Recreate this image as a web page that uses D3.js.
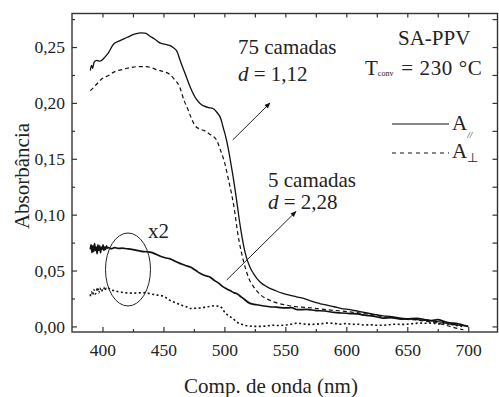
<!DOCTYPE html>
<html><head><meta charset="utf-8">
<script src="https://cdn.jsdelivr.net/npm/d3@7"></script>
<style>
html,body{margin:0;padding:0;background:#fff;}
svg{display:block;}
</style></head>
<body>
<svg id="chart" width="499" height="397"></svg>
<script>
// ---- data (wavelength nm, absorbance) ----
const xTicks = [400, 450, 500, 550, 600, 650, 700];
const yTicks = [0, 0.05, 0.10, 0.15, 0.20, 0.25];
const yTickLabels = ["0,00", "0,05", "0,10", "0,15", "0,20", "0,25"];

const wl75par = [390,391,392,393,395,398,402,405,409,414,420,425,431,435,439,443,447,451,455,458,461,464,468,472,477,480,483,487,490,494,497,499,501,503,505,507,510,512,514,516,518,521,524,529,535,542,548,554,559,565,570,576,580,585,590,596,603,610,617,623,630,637,645,651,658,664,670,678,685,692,700];
const a75par  = [0.229,0.2335,0.231,0.236,0.238,0.2374,0.241,0.245,0.2525,0.2555,0.2585,0.261,0.2627,0.2625,0.2597,0.257,0.2537,0.2525,0.2514,0.2495,0.2463,0.237,0.2256,0.214,0.2033,0.1995,0.1973,0.1958,0.1953,0.1914,0.186,0.178,0.170,0.160,0.148,0.135,0.113,0.097,0.083,0.071,0.062,0.053,0.047,0.040,0.0354,0.032,0.0295,0.0278,0.0265,0.025,0.023,0.021,0.020,0.0188,0.0176,0.016,0.015,0.0135,0.012,0.0108,0.0095,0.0088,0.0075,0.0068,0.006,0.0055,0.005,0.0038,0.002,0.0012,0.000];

const wl75perp = [390,392,395,400,405,410,415,420,425,430,436,440,445,450,455,459,463,467,470,473,476,480,484,488,492,494,496,498,500.5,502,504,506,508,511,514,517,520,524,530,537,543,549,559,567,576,585,594,603,612,621,630,640,650,658,666,675,685,690,696];
const a75perp  = [0.211,0.213,0.2165,0.222,0.2245,0.228,0.2295,0.231,0.232,0.2325,0.2324,0.2315,0.2295,0.228,0.2256,0.221,0.2151,0.202,0.1944,0.186,0.1795,0.1765,0.175,0.172,0.169,0.166,0.160,0.154,0.1454,0.138,0.128,0.118,0.106,0.083,0.066,0.053,0.043,0.0354,0.028,0.0235,0.021,0.0195,0.0176,0.017,0.016,0.0148,0.014,0.013,0.0118,0.0105,0.0087,0.0075,0.0062,0.0057,0.0045,0.003,0.000,-0.0015,-0.003];

const wl5par = [390,390.7,391.4,392.1,392.8,393.5,394.2,394.9,395.6,396.3,397,397.7,398.4,399.1,399.8,400.5,401.2,401.9,402.6,403.3,404,405,407,410,413,416,420,424,428,432,436,440,444,448,452,455,460,465,468,472,476,480,484,488,492,495,499,502,505,508,510,513,516,521,526,531,537,543,550,555,560,567,575,582,590,596,603,609,615,622,630,637,645,651,658,664,670,675,680,685,690,695,700];
const a5par  = [0.069,0.073,0.066,0.072,0.067,0.074,0.068,0.071,0.065,0.073,0.068,0.072,0.066,0.071,0.069,0.073,0.068,0.071,0.069,0.072,0.070,0.0705,0.0695,0.0705,0.0698,0.070,0.0695,0.069,0.068,0.0672,0.0668,0.0662,0.0645,0.0625,0.0612,0.0607,0.058,0.0558,0.0545,0.0532,0.0505,0.0475,0.0455,0.0443,0.041,0.039,0.0354,0.0335,0.0318,0.030,0.0295,0.027,0.0245,0.0206,0.0195,0.0185,0.0176,0.0172,0.0165,0.0168,0.015,0.0152,0.0142,0.0138,0.0125,0.012,0.0115,0.0112,0.0100,0.0092,0.0075,0.0078,0.0065,0.0068,0.0072,0.0062,0.0052,0.0060,0.0045,0.0032,0.0028,0.0015,0.000];

const wl5perp = [390,391,392,393,394,395,396,397,398,399,400,401,402,403,404,405,407,410,413,416,420,425,430,435,440,445,450,455,460,465,469,472,476,480,483,486,489,492,494,496,498,500,502,505,508,510,513,516,520,525,530,535,540,545,550,555,560,565,570,575,580,585,590,595,600,605,610,615,620,625,630,635,640,645,650,655,660,665,670,675,680,685,690,695];
const a5perp  = [0.027,0.031,0.028,0.033,0.029,0.031,0.035,0.030,0.034,0.031,0.033,0.035,0.032,0.034,0.033,0.034,0.0325,0.032,0.031,0.0305,0.030,0.0298,0.030,0.0302,0.029,0.028,0.027,0.0235,0.021,0.019,0.0175,0.016,0.0162,0.0165,0.017,0.0176,0.018,0.0185,0.0182,0.018,0.0165,0.013,0.0108,0.0086,0.006,0.004,0.0025,0.0012,0.0005,0.000,0.000,0.0005,0.001,0.0008,0.0012,0.002,0.003,0.0022,0.0018,0.002,0.0025,0.003,0.0028,0.002,0.0025,0.0018,0.002,0.0012,0.0015,0.001,0.001,0.0015,0.002,0.0018,0.002,0.0025,0.003,0.0028,0.003,0.0022,0.0025,0.002,0.001,0.000];

// ---- layout ----
const FONT = "'Liberation Serif', 'Times New Roman', serif";
const svg = d3.select("#chart").attr("font-family", FONT);
const m = {left: 72, right: 497.5, top: 13.5, bottom: 332};
const x = d3.scaleLinear().domain([375, 724]).range([m.left, m.right]);
const y = d3.scaleLinear().domain([-0.005, 0.28]).range([m.bottom, m.top]);
const ink = "#222";

// frame
svg.append("rect").attr("x", m.left).attr("y", m.top)
  .attr("width", m.right - m.left).attr("height", m.bottom - m.top)
  .attr("fill", "none").attr("stroke", "#333").attr("stroke-width", 1.4);

// axes with inward ticks
const xMinor = d3.range(400, 725, 25);
const yMinor = d3.range(0, 0.276, 0.025);
const bottomAx = svg.append("g").attr("transform", `translate(0,${m.bottom})`)
  .call(d3.axisBottom(x).tickValues(xTicks).tickSize(-5).tickPadding(12).tickFormat(d3.format("d")));
const bottomMinor = svg.append("g").attr("transform", `translate(0,${m.bottom})`)
  .call(d3.axisBottom(x).tickValues(xMinor.filter(v => !xTicks.includes(v))).tickSize(-3).tickFormat(""));
const topAx = svg.append("g").attr("transform", `translate(0,${m.top})`)
  .call(d3.axisTop(x).tickValues(xMinor).tickSize(-4).tickFormat(""));
const leftAx = svg.append("g").attr("transform", `translate(${m.left},0)`)
  .call(d3.axisLeft(y).tickValues(yTicks).tickSize(-5).tickPadding(7).tickFormat((d, i) => yTickLabels[i]));
const leftMinor = svg.append("g").attr("transform", `translate(${m.left},0)`)
  .call(d3.axisLeft(y).tickValues(yMinor.filter((v, i) => i % 2 === 1)).tickSize(-3).tickFormat(""));
const rightAx = svg.append("g").attr("transform", `translate(${m.right},0)`)
  .call(d3.axisRight(y).tickValues(yMinor).tickSize(-5).tickFormat(""));
[bottomAx, bottomMinor, topAx, leftAx, leftMinor, rightAx].forEach(g => {
  g.attr("font-family", FONT).attr("font-size", 17.5);
  g.select(".domain").remove();
  g.selectAll("line").attr("stroke", "#333").attr("stroke-width", 1.2);
  g.selectAll("text").attr("fill", ink);
});

// curves
const line = d3.line().x(d => x(d[0])).y(d => y(d[1])).curve(d3.curveMonotoneX);
function draw(wl, a, dash, w) {
  svg.append("path").datum(wl.map((v, i) => [v, a[i]]))
    .attr("d", line).attr("fill", "none").attr("stroke", "#111")
    .attr("stroke-width", w).attr("stroke-dasharray", dash);
}
draw(wl75par, a75par, null, 1.3);
draw(wl75perp, a75perp, "4,3", 1.2);
draw(wl5par, a5par, null, 1.7);
draw(wl5perp, a5perp, "2,2.5", 1.6);

function txt(xx, yy, s, size) {
  return svg.append("text").attr("x", xx).attr("y", yy)
    .attr("font-family", FONT).attr("font-size", size || 21).attr("fill", ink).text(s);
}

// axis titles
txt(271, 393, "Comp. de onda (nm)", 21).attr("text-anchor", "middle");
svg.append("text").attr("transform", "translate(29,176) rotate(-90)").attr("text-anchor", "middle")
  .attr("font-family", FONT).attr("font-size", 21).attr("fill", ink).text("Absorbância");

// annotations
txt(238, 54, "75 camadas");
const t1 = txt(238, 81, "");
t1.append("tspan").attr("font-style", "italic").text("d");
t1.append("tspan").text(" = 1,12");
txt(268, 187, "5 camadas");
const t2 = txt(268, 209, "");
t2.append("tspan").attr("font-style", "italic").text("d");
t2.append("tspan").text(" = 2,28");
txt(148, 238, "x2");
txt(398, 45, "SA-PPV");
const t3 = txt(365, 75, "");
t3.append("tspan").text("T");
t3.append("tspan").attr("dy", 1).attr("font-size", 8).text("conv");
t3.append("tspan").attr("dy", -1).attr("dx", 2).attr("letter-spacing", 0.6).text(" = 230 °C");

// legend
svg.append("line").attr("x1", 392).attr("x2", 449).attr("y1", 124).attr("y2", 124)
  .attr("stroke", "#111").attr("stroke-width", 1.2);
svg.append("line").attr("x1", 392).attr("x2", 449).attr("y1", 153).attr("y2", 153)
  .attr("stroke", "#111").attr("stroke-width", 1.2).attr("stroke-dasharray", "4,4");
const l1 = txt(452, 130, "");
l1.append("tspan").text("A");
l1.append("tspan").attr("dy", 8).attr("font-size", 9).attr("font-style", "italic").text("//");
const l2 = txt(452, 158, "");
l2.append("tspan").text("A");
l2.append("tspan").attr("dy", 4).attr("font-size", 13).text("⊥");

// ellipse
svg.append("ellipse").attr("cx", 128).attr("cy", 269.5).attr("rx", 22.5).attr("ry", 36.5)
  .attr("fill", "none").attr("stroke", "#222").attr("stroke-width", 1);

// arrows
const defs = svg.append("defs");
defs.append("marker").attr("id", "ah").attr("viewBox", "0 0 10 10").attr("refX", 9).attr("refY", 5)
  .attr("markerWidth", 7).attr("markerHeight", 6).attr("orient", "auto")
  .append("path").attr("d", "M0,1 L10,5 L0,9 Z").attr("fill", "#111");
[[232.7, 140, 270, 103], [226.7, 280, 296, 211.5]].forEach(p => {
  svg.append("line").attr("x1", p[0]).attr("y1", p[1]).attr("x2", p[2]).attr("y2", p[3])
    .attr("stroke", "#222").attr("stroke-width", 1).attr("marker-end", "url(#ah)");
});
</script>
</body></html>
